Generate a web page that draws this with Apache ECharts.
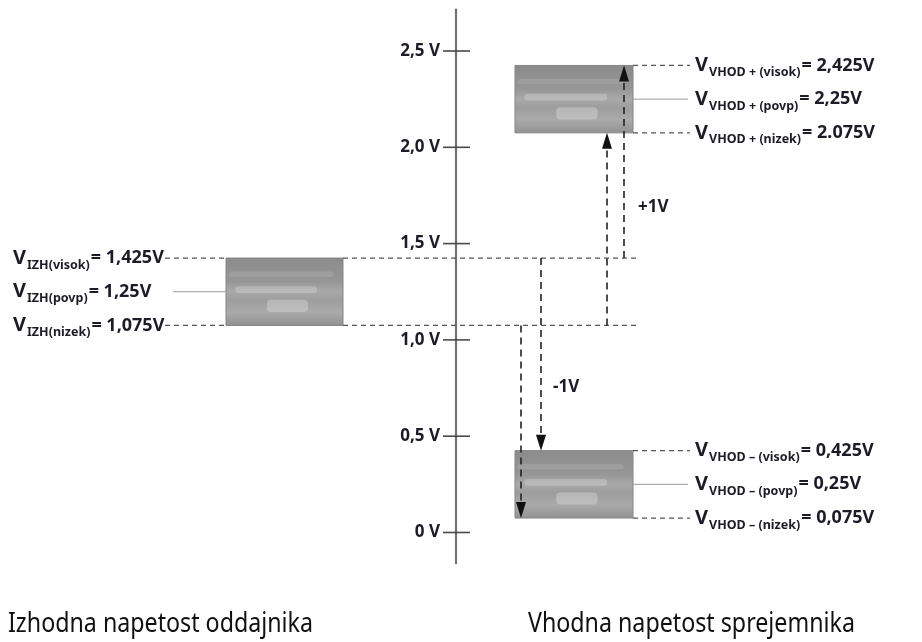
<!DOCTYPE html>
<html><head><meta charset="utf-8">
<script src="https://cdn.jsdelivr.net/npm/echarts@6/dist/echarts.min.js"></script>
<style>html,body{margin:0;padding:0;background:#fff}#c{width:922px;height:642px}</style>
</head><body><div id="c"></div>
<script>
// ---- data ----
const tickValues = [0, 0.5, 1.0, 1.5, 2.0, 2.5];
const tickLabels = ['0 V', '0,5 V', '1,0 V', '1,5 V', '2,0 V', '2,5 V'];
const levelKeys = ['nizek', 'povp', 'visok'];
const izhLevels = [1.075, 1.25, 1.425];
const izhValueLabels = ['1,075V', '1,25V', '1,425V'];
const vhodPlusLevels = [2.075, 2.25, 2.425];
const vhodPlusValueLabels = ['2.075V', '2,25V', '2,425V'];
const vhodMinusLevels = [0.075, 0.25, 0.425];
const vhodMinusValueLabels = ['0,075V', '0,25V', '0,425V'];
const shiftLabels = ['+1V', '-1V'];
const groupTitles = ['Izhodna napetost oddajnika', 'Vhodna napetost sprejemnika'];

// ---- layout (pixel offsets from the vertical axis) ----
const L = {
  leftBox: [-230, -113], rightBox: [59, 177],
  leftDashStart: -291, leftPovpStart: -283, leftDashEnd: 181,
  rightDashEnd: 234, rightPovpEnd: 232, rightLabelX: 239, leftLabelX: -443,
  upX: [151, 168], downX: [85, 65],
  plusLabel: [182, 1.69], minusLabel: [97, 0.755],
  tickL: -13, tickR: 14
};
const FONT = '"Noto Sans", "Open Sans", sans-serif';
const TXT = '#1c1c28';

function seg(api, x1, v1, x2, v2, style) {
  const p1 = api.coord([x1, v1]), p2 = api.coord([x2, v2]);
  return { type: 'line', shape: { x1: p1[0], y1: p1[1], x2: p2[0], y2: p2[1] }, style: style };
}
function box(api, xr, lo, hi) {
  const a = api.coord([xr[0], hi]), b = api.coord([xr[1], lo]);
  const w = b[0] - a[0], h = b[1] - a[1];
  return {
    type: 'group', children: [
      { type: 'rect', shape: { x: a[0], y: a[1], width: w, height: h },
        style: { fill: new echarts.graphic.LinearGradient(0, 0, 0, 1, [
          { offset: 0, color: '#8b8b8b' }, { offset: 0.35, color: '#969696' },
          { offset: 0.5, color: '#a9a9a9' }, { offset: 0.62, color: '#9d9d9d' },
          { offset: 0.8, color: '#aaaaaa' }, { offset: 1, color: '#919191' }]),
          stroke: '#858585', lineWidth: 1 } },
      { type: 'rect', shape: { x: a[0] + w * 0.08, y: a[1] + h * 0.42, width: w * 0.7, height: h * 0.1, r: 3 },
        style: { fill: 'rgba(230,230,230,0.3)' } },
      { type: 'rect', shape: { x: a[0] + w * 0.35, y: a[1] + h * 0.62, width: w * 0.35, height: h * 0.18, r: 4 },
        style: { fill: 'rgba(235,235,235,0.33)' } },
      { type: 'rect', shape: { x: a[0] + w * 0.02, y: a[1] + h * 0.2, width: w * 0.9, height: h * 0.08, r: 3 },
        style: { fill: 'rgba(200,200,200,0.22)' } }
    ]
  };
}
function arrow(api, x, from, to) {
  const p1 = api.coord([x, from]), p2 = api.coord([x, to]);
  const dir = p2[1] < p1[1] ? -1 : 1;
  const hh = 16, hw = 5;
  const base = p2[1] - dir * hh;
  return {
    type: 'group', children: [
      { type: 'line', shape: { x1: p1[0], y1: p1[1], x2: p2[0], y2: base },
        style: { stroke: '#222', lineWidth: 1.6, lineDash: [7, 5] } },
      { type: 'polygon', shape: { points: [[p2[0], p2[1]], [p2[0] - hw, base], [p2[0] + hw, base]] },
        style: { fill: '#111' } }
    ]
  };
}
function richLabel(api, x, v, sub, value, subSize) {
  const p = api.coord([x, v]);
  return {
    type: 'text', x: p[0], y: p[1],
    style: {
      text: '{v|V}{s|' + sub + '}{e|= ' + value + '}',
      textAlign: 'left', textVerticalAlign: 'middle',
      rich: {
        v: { fontSize: 20, fontWeight: 'bold', fontFamily: FONT, fill: TXT, lineHeight: 24 },
        s: { fontSize: subSize, fontWeight: 'bold', fontFamily: FONT, fill: TXT, lineHeight: subSize, padding: [14, 1, 0, 1] },
        e: { fontSize: 18, fontWeight: 'bold', fontFamily: FONT, fill: TXT, lineHeight: 24 }
      }
    }
  };
}

function renderAll(params, api) {
  const ch = [];
  const dash = { stroke: '#555', lineWidth: 1.3, lineDash: [5, 4] };
  const thin = { stroke: '#9a9a9a', lineWidth: 1 };
  tickValues.forEach(v => ch.push(seg(api, L.tickL, v, L.tickR, v, { stroke: '#4a4a4a', lineWidth: 1.6 })));
  ch.push(box(api, L.leftBox, izhLevels[0], izhLevels[2]));
  ch.push(box(api, L.rightBox, vhodPlusLevels[0], vhodPlusLevels[2]));
  ch.push(box(api, L.rightBox, vhodMinusLevels[0], vhodMinusLevels[2]));
  [0, 2].forEach(i => {
    ch.push(seg(api, L.leftDashStart, izhLevels[i], L.leftBox[0], izhLevels[i], dash));
    ch.push(seg(api, L.leftBox[1], izhLevels[i], L.leftDashEnd, izhLevels[i], dash));
  });
  ch.push(seg(api, L.leftPovpStart, izhLevels[1], L.leftBox[0], izhLevels[1], thin));
  [vhodPlusLevels, vhodMinusLevels].forEach(lv => {
    [0, 2].forEach(i => ch.push(seg(api, L.rightBox[1], lv[i], L.rightDashEnd, lv[i], dash)));
    ch.push(seg(api, L.rightBox[1], lv[1], L.rightPovpEnd, lv[1], thin));
  });
  ch.push(arrow(api, L.upX[0], izhLevels[0], vhodPlusLevels[0]));
  ch.push(arrow(api, L.upX[1], izhLevels[2], vhodPlusLevels[2]));
  ch.push(arrow(api, L.downX[0], izhLevels[2], vhodMinusLevels[2]));
  ch.push(arrow(api, L.downX[1], izhLevels[0], vhodMinusLevels[0]));
  [[L.plusLabel, shiftLabels[0]], [L.minusLabel, shiftLabels[1]]].forEach(([pos, t]) => {
    const p = api.coord(pos);
    ch.push({ type: 'text', x: p[0], y: p[1], style: { text: t, fill: TXT, fontSize: 17, fontWeight: 'bold', fontFamily: FONT, textAlign: 'left', textVerticalAlign: 'middle' } });
  });
  levelKeys.forEach((k, i) => {
    ch.push(richLabel(api, L.leftLabelX, izhLevels[i], 'IZH(' + k + ')', izhValueLabels[i], 12.5));
    ch.push(richLabel(api, L.rightLabelX, vhodPlusLevels[i], 'VHOD + (' + k + ')', vhodPlusValueLabels[i], 12.5));
    ch.push(richLabel(api, L.rightLabelX, vhodMinusLevels[i], 'VHOD – (' + k + ')', vhodMinusValueLabels[i], 12.5));
  });
  return { type: 'group', children: ch };
}

const chart = echarts.init(document.getElementById('c'), null, { renderer: 'canvas' });
chart.setOption({
  animation: false,
  backgroundColor: '#fff',
  graphic: [
    { type: 'text', x: 8, y: 624, scaleX: 0.86, style: { text: groupTitles[0], fontSize: 27, fontFamily: FONT, fill: '#111', textVerticalAlign: 'middle' } },
    { type: 'text', x: 528, y: 624, scaleX: 0.86, style: { text: groupTitles[1], fontSize: 27, fontFamily: FONT, fill: '#111', textVerticalAlign: 'middle' } }
  ],
  grid: { left: 456, right: 0, top: 9.6, bottom: 78.7, containLabel: false, outerBoundsMode: 'none' },
  xAxis: { type: 'value', min: 0, max: 466, show: false },
  yAxis: {
    type: 'value', min: -0.16, max: 2.715,
    axisLine: { show: true, onZero: false, lineStyle: { color: '#727272', width: 2.2 } },
    axisTick: { show: false },
    splitLine: { show: false },
    axisLabel: {
      customValues: tickValues, margin: 16,
      formatter: v => tickLabels[tickValues.findIndex(t => Math.abs(t - v) < 1e-6)] || '',
      color: TXT, fontSize: 17, fontWeight: 'bold', fontFamily: FONT
    }
  },
  series: [{ type: 'custom', data: [0], renderItem: renderAll, silent: true, clip: false }]
});
</script></body></html>
